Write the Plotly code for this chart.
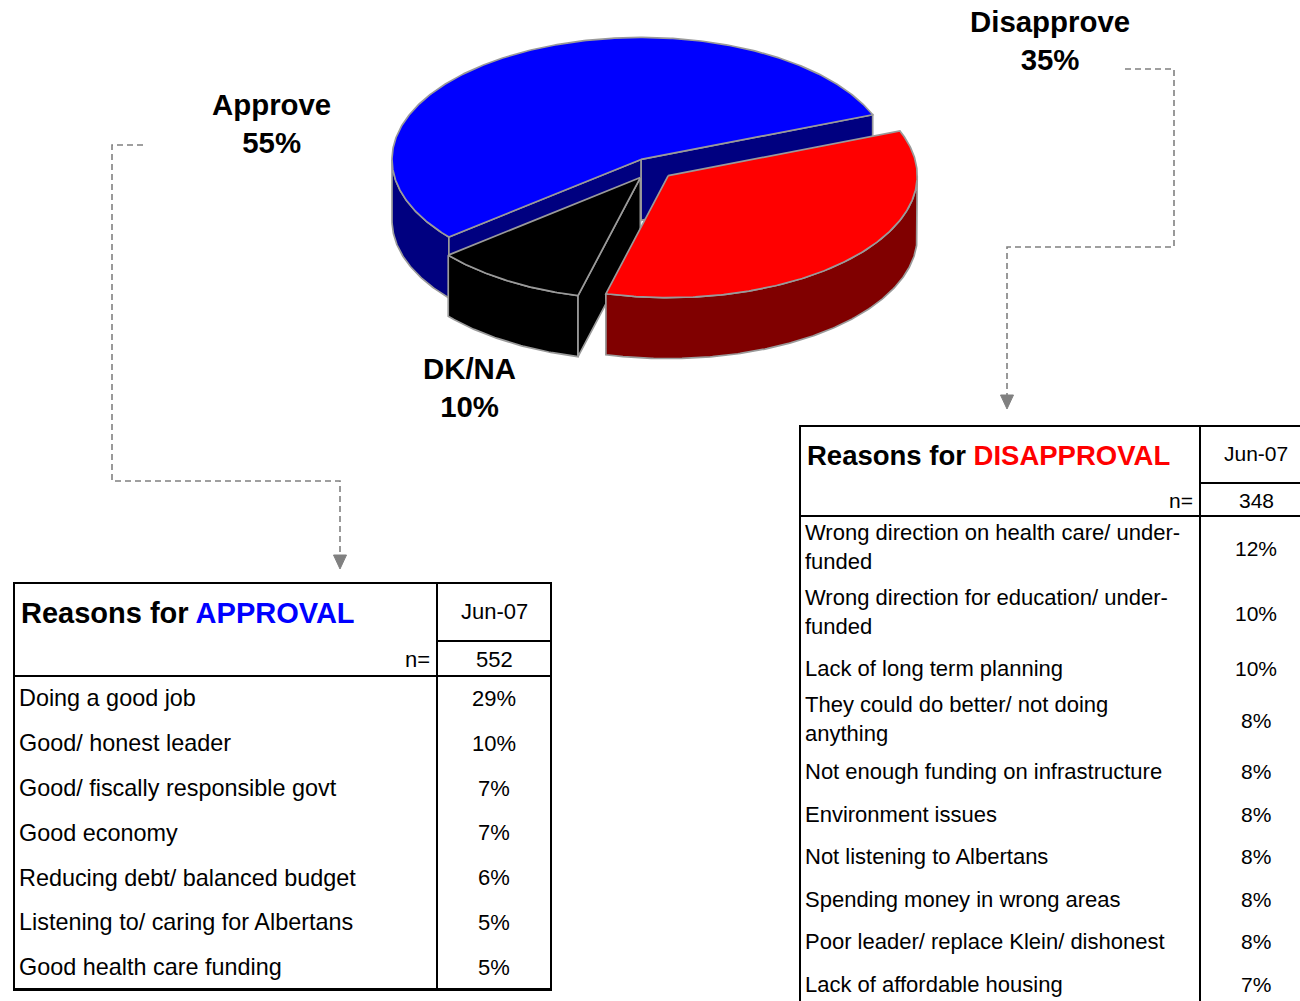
import textwrap
import numpy as np
import plotly.graph_objects as go

# ---------------- data ----------------
pie_labels = ["Disapprove", "DK/NA", "Approve"]   # clockwise from the start angle
pie_values = [35, 10, 55]

period = "Jun-07"

approval_reasons = [
    "Doing a good job",
    "Good/ honest leader",
    "Good/ fiscally responsible govt",
    "Good economy",
    "Reducing debt/ balanced budget",
    "Listening to/ caring for Albertans",
    "Good health care funding",
]
approval_pct = [29, 10, 7, 7, 6, 5, 5]
approval_n = 552

disapproval_reasons = [
    "Wrong direction on health care/ under-funded",
    "Wrong direction for education/ under-funded",
    "Lack of long term planning",
    "They could do better/ not doing anything",
    "Not enough funding on infrastructure",
    "Environment issues",
    "Not listening to Albertans",
    "Spending money in wrong areas",
    "Poor leader/ replace Klein/ dishonest",
    "Lack of affordable housing",
]
disapproval_pct = [12, 10, 10, 8, 8, 8, 8, 8, 8, 7]
disapproval_n = 348

# ---------------- style ----------------
FONT = "Liberation Sans, Arial, sans-serif"
top_colors = {"Approve": "#0000FF", "Disapprove": "#FF0000", "DK/NA": "#000000"}
side_colors = {"Approve": "#000080", "Disapprove": "#800000", "DK/NA": "#000000"}
draw_order = ["Approve", "DK/NA", "Disapprove"]
EDGE = "#9a9a9a"

CX, CY = 652.0, 168.6
RX, RY = 249.0, 122.0
DEPTH = 61.0
EXPLODE = 0.087
START = 21.5  # degrees, slices run clockwise

label_pos = {"Approve": (271, 123), "Disapprove": (1050, 40), "DK/NA": (469, 387)}

# table row heights (layout of the source sheet)
left_row_heights = [44.8] * 7
right_row_heights = [64, 66, 45, 58, 44, 42.5, 42.5, 42.5, 42.5, 43]

fig = go.Figure()

# ---------------- 3-D pie (computed from values) ----------------
total = float(sum(pie_values))
slices = {}
cum = 0.0
for lab, val in zip(pie_labels, pie_values):
    hi = START - cum / total * 360.0
    lo = START - (cum + val) / total * 360.0
    cum += val
    mid = np.radians((lo + hi) / 2)
    vx = CX + EXPLODE * RX * np.cos(mid)
    vy = CY - EXPLODE * RY * np.sin(mid)
    slices[lab] = (lo, hi, vx, vy)


def pt(vx, vy, deg, z=0.0):
    t = np.radians(deg)
    return vx + RX * np.cos(t), vy - RY * np.sin(t) + z


def poly(xs, ys, color):
    fig.add_trace(go.Scatter(
        x=list(xs) + [xs[0]], y=list(ys) + [ys[0]], mode="lines", fill="toself",
        fillcolor=color, line=dict(color=EDGE, width=1.7), hoverinfo="skip",
        showlegend=False))


for lab in draw_order:
    lo, hi, vx, vy = slices[lab]
    side = side_colors[lab]
    # outer curved face where it faces the viewer
    for k in range(-2, 3):
        a0, a1 = max(lo, -180 + 360 * k), min(hi, 360 * k)
        if a1 - a0 > 0.01:
            th = np.linspace(a0, a1, max(int(a1 - a0) * 2, 4))
            top = [pt(vx, vy, t) for t in th]
            bot = [pt(vx, vy, t, DEPTH) for t in th[::-1]]
            pts = top + bot
            poly([p[0] for p in pts], [p[1] for p in pts], side)
    # radial faces
    for edge, visible in ((lo, np.cos(np.radians(lo)) > 0), (hi, np.cos(np.radians(hi)) < 0)):
        if visible:
            p1 = pt(vx, vy, edge)
            p2 = pt(vx, vy, edge, DEPTH)
            poly([vx, p1[0], p2[0], vx], [vy, p1[1], p2[1], vy + DEPTH], side)
    # top face
    th = np.linspace(lo, hi, max(int(hi - lo) * 2, 4))
    pts = [(vx, vy)] + [pt(vx, vy, t) for t in th]
    poly([p[0] for p in pts], [p[1] for p in pts], top_colors[lab])

annotations = []
for lab, val in zip(pie_labels, pie_values):
    x, y = label_pos[lab]
    annotations.append(dict(x=x, y=y, xref="x", yref="y", showarrow=False,
                            text=f"<b>{lab}<br>{val}%</b>", align="center",
                            font=dict(family=FONT, size=29.4, color="black")))

shapes = []
GRAY = "#808080"
DASH = "6px,4px"


def dashed(points):
    path = "M " + " L ".join(f"{x} {y}" for x, y in points)
    shapes.append(dict(type="path", path=path, xref="x", yref="y",
                       line=dict(color=GRAY, width=1.6, dash=DASH)))


def arrowhead(x, y):
    shapes.append(dict(type="path", path=f"M {x-6.5} {y-14} L {x+6.5} {y-14} L {x} {y} Z",
                       xref="x", yref="y", fillcolor=GRAY, line=dict(color=GRAY, width=1)))


dashed([(143, 145), (112, 145), (112, 481), (340, 481), (340, 556)])
arrowhead(340, 569)
dashed([(1125, 69), (1174, 69), (1174, 247), (1007, 247), (1007, 396)])
arrowhead(1007, 409)


def hline(x0, x1, y, w=2):
    shapes.append(dict(type="line", x0=x0, x1=x1, y0=y, y1=y, xref="x", yref="y",
                       line=dict(color="black", width=w)))


def vline(x, y0, y1, w=2):
    shapes.append(dict(type="line", x0=x, x1=x, y0=y0, y1=y1, xref="x", yref="y",
                       line=dict(color="black", width=w)))


def text(x, y, s, size, anchor="left", bold=False):
    annotations.append(dict(x=x, y=y, xref="x", yref="y", showarrow=False,
                            text=(f"<b>{s}</b>" if bold else s), xanchor=anchor,
                            yanchor="middle", align="left",
                            font=dict(family=FONT, size=size, color="black")))


def table(x0, x1, xdiv, ytop, yjun, yhead, title_html, title_size, n, reasons, pcts,
          heights, wrap, body_size, val_size, bottom_w, bottom_draw):
    xc = (xdiv + x1) / 2
    rows = [textwrap.wrap(r, width=wrap) for r in reasons]
    ybottom = yhead + sum(heights)
    hline(x0 - 1, x1 + 1, ytop)
    vline(x0, ytop, ybottom)
    vline(x1, ytop, ybottom)
    vline(xdiv, ytop, ybottom)
    hline(xdiv, x1, yjun)
    hline(x0, x1, yhead)
    if bottom_draw:
        hline(x0 - 1, x1 + 1, ybottom, bottom_w)
    text(x0 + 5, (ytop + yjun) / 2 + 1, title_html, title_size, bold=True)
    text(xc, (ytop + yjun) / 2 - 1, period, val_size, anchor="center")
    text(xdiv - 5, (yjun + yhead) / 2 + 1, "n=", val_size, anchor="right")
    text(xc, (yjun + yhead) / 2 + 1, str(n), val_size, anchor="center")
    y = yhead
    for lines, h, p in zip(rows, heights, pcts):
        text(x0 + 3, y + h / 2 - (1 if len(lines) > 1 else 0), "<br>".join(lines), body_size)
        text(xc, y + h / 2, f"{p}%", val_size, anchor="center")
        y += h


table(14, 551, 437, 583, 641, 676,
      "Reasons for <span style='color:#0000FF'>APPROVAL</span>", 29, approval_n,
      approval_reasons, approval_pct, left_row_heights, 60, 23.4, 22, 3, True)
table(800, 1312, 1200, 426, 483, 516,
      "Reasons for <span style='color:#FF0000'>DISAPPROVAL</span>", 27.5, disapproval_n,
      disapproval_reasons, disapproval_pct, right_row_heights, 38, 22, 21, 3, False)

fig.update_layout(
    width=1300, height=1001, margin=dict(l=0, r=0, t=0, b=0),
    paper_bgcolor="white", plot_bgcolor="white",
    xaxis=dict(range=[0, 1300], visible=False, fixedrange=True),
    yaxis=dict(range=[1001, 0], visible=False, fixedrange=True),
    shapes=shapes, annotations=annotations, showlegend=False,
)

fig.write_html("out.html", post_script="document.body.style.margin='0';",
               config={"displayModeBar": False})
